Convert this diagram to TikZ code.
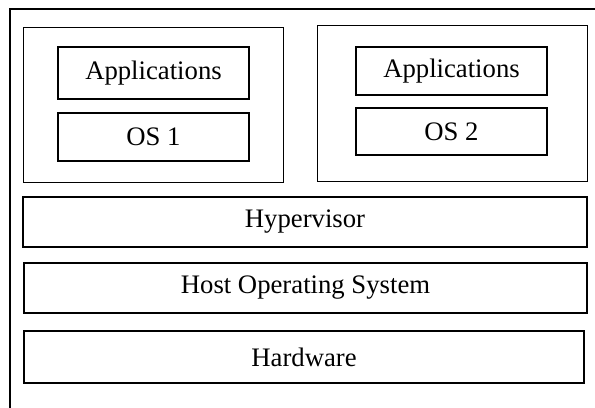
\documentclass[tikz,border=0pt]{standalone}
\usepackage{fontspec}
\setmainfont{Liberation Serif}
\usepackage{tikz}

\begin{document}
\begin{tikzpicture}
	\useasboundingbox (0,0) rectangle (14.875,10.175);
	% outer frame, only its left and top edges fall inside the page
	\begin{scope}
		\clip (0,0) rectangle (14.875,10.175);
		\draw [line width=1.4pt] (0.25,-1) rectangle (16,9.95);
	\end{scope}
	% the two guest machines
	\begin{scope}[every node/.style = {draw, line width=0.7pt, inner sep=0pt}]
		\node (VM1) [minimum width=6.5cm, minimum height=3.875cm] at (3.825,7.5625) {};
		\node (VM2) [minimum width=6.75cm, minimum height=3.9cm] at (11.3,7.6) {};
	\end{scope}
	% layers
	\begin{scope}[every node/.style = {draw, line width=1.05pt, inner sep=0pt,
			font=\fontsize{19}{22}\selectfont}]
		\node (App1) [minimum width=4.775cm, minimum height=1.3cm] at (3.8375,8.35) {Applications};
		\node (OS1) [minimum width=4.775cm, minimum height=1.2cm] at (3.8375,6.75) {OS 1};
		\node (App2) [minimum width=4.775cm, minimum height=1.2cm] at (11.2875,8.4) {Applications};
		\node (OS2) [minimum width=4.775cm, minimum height=1.175cm] at (11.2875,6.8875) {OS 2};
		\node (Hyp) [minimum width=14.1cm, minimum height=1.25cm] at (7.625,4.625) {Hypervisor};
		\node (Host) [minimum width=14.075cm, minimum height=1.25cm] at (7.6375,2.975) {Host Operating System};
		\node (HW) [minimum width=14cm, minimum height=1.3cm] at (7.6,1.25) {Hardware};
	\end{scope}
\end{tikzpicture}
\end{document}
